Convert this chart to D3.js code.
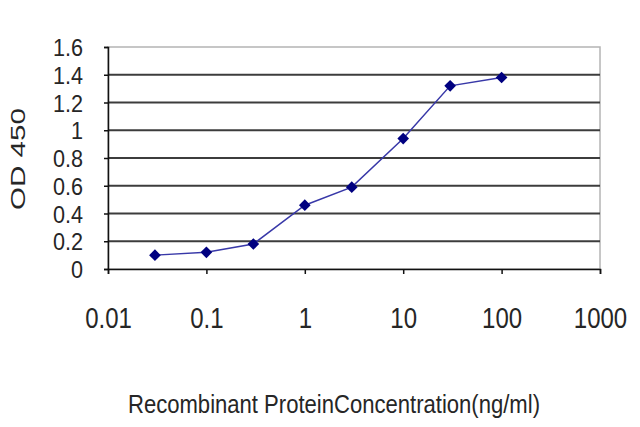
<!DOCTYPE html>
<html>
<head>
<meta charset="utf-8">
<script src="https://cdn.jsdelivr.net/npm/d3@7"></script>
<style>
    body { margin: 0; background: #fff; }
    svg text { font-family: "Liberation Sans", Arial, sans-serif; fill: #262626; }
</style>
</head>
<body>
<svg id="chart" width="640" height="427"></svg>
<script>
// Concentrations (ng/ml) and measured OD 450
const concentrations = [0.03, 0.1, 0.3, 1, 3, 10, 30, 100];
const odValues = [0.10, 0.12, 0.18, 0.46, 0.59, 0.94, 1.32, 1.38];
const xTicks = [0.01, 0.1, 1, 10, 100, 1000];
const xTickLabels = ['0.01', '0.1', '1', '10', '100', '1000'];
const yTicks = [0, 0.2, 0.4, 0.6, 0.8, 1, 1.2, 1.4, 1.6];
const yTickLabels = ['0', '0.2', '0.4', '0.6', '0.8', '1', '1.2', '1.4', '1.6'];

const margin = {top: 47, right: 40, bottom: 158, left: 108};
const width = 640 - margin.left - margin.right;
const height = 427 - margin.top - margin.bottom;

// the original lettering is tall and squeezed sideways
const squeeze = 0.8;

const svg = d3.select('#chart');
const g = svg.append('g')
    .attr('transform', `translate(${margin.left},${margin.top})`);

const x = d3.scaleLog()
    .domain([0.01, 1000])
    .range([0, width]);

const y = d3.scaleLinear()
    .domain([0, 1.6])
    .range([height, 0]);

// Plot frame (top and right in light grey)
g.append('rect')
    .attr('x', 0)
    .attr('y', 0)
    .attr('width', width)
    .attr('height', height)
    .attr('fill', 'none')
    .attr('stroke', '#b4b4b4')
    .attr('stroke-width', 1.5);

// Horizontal gridlines
g.selectAll('.grid')
    .data(yTicks.filter(d => d > 0 && d < 1.6))
    .enter()
    .append('line')
    .attr('class', 'grid')
    .attr('x1', 0)
    .attr('x2', width)
    .attr('y1', d => y(d))
    .attr('y2', d => y(d))
    .attr('stroke', '#3c3c3c')
    .attr('stroke-width', 2);

// Y axis
const yAxis = g.append('g')
    .call(d3.axisLeft(y)
        .tickValues(yTicks)
        .tickSize(4)
        .tickFormat((d, i) => yTickLabels[i]));
yAxis.select('.domain').attr('stroke', '#111').attr('stroke-width', 1.5);
yAxis.selectAll('.tick line').attr('stroke', '#111').attr('stroke-width', 1.5);
yAxis.selectAll('.tick text')
    .attr('x', 0)
    .attr('dy', '0.36em')
    .attr('transform', 'translate(-25,0) scale(0.9,1)')
    .style('font-size', '24px');

// X axis
const xAxis = g.append('g')
    .attr('transform', `translate(0,${height})`)
    .call(d3.axisBottom(x)
        .tickValues(xTicks)
        .tickSize(5)
        .tickFormat((d, i) => xTickLabels[i]));
xAxis.select('.domain').attr('stroke', '#111').attr('stroke-width', 1.5);
xAxis.selectAll('.tick line').attr('stroke', '#111').attr('stroke-width', 1.5);
xAxis.selectAll('.tick text')
    .attr('y', 0)
    .attr('dy', 0)
    .attr('transform', `translate(0,59) scale(${squeeze},1)`)
    .style('font-size', '30px');

// Data line
const points = concentrations.map((c, i) => ({c, od: odValues[i]}));

g.append('path')
    .datum(points)
    .attr('fill', 'none')
    .attr('stroke', '#3838a8')
    .attr('stroke-width', 1.5)
    .attr('d', d3.line().x(d => x(d.c)).y(d => y(d.od)));

// Diamond markers (rotated squares)
g.selectAll('.marker')
    .data(points)
    .enter()
    .append('path')
    .attr('class', 'marker')
    .attr('transform', d => `translate(${x(d.c)},${y(d.od)}) rotate(45)`)
    .attr('d', d3.symbol().type(d3.symbolSquare).size(68))
    .attr('fill', '#000080');

// Axis titles
svg.append('text')
    .attr('x', 128)
    .attr('y', 413)
    .attr('textLength', 412)
    .attr('lengthAdjust', 'spacingAndGlyphs')
    .style('font-size', '25px')
    .text('Recombinant ProteinConcentration(ng/ml)');

svg.append('text')
    .attr('transform', 'translate(25,210) rotate(-90)')
    .attr('textLength', 102)
    .attr('lengthAdjust', 'spacingAndGlyphs')
    .style('font-size', '21px')
    .text('OD 450');
</script>
</body>
</html>
